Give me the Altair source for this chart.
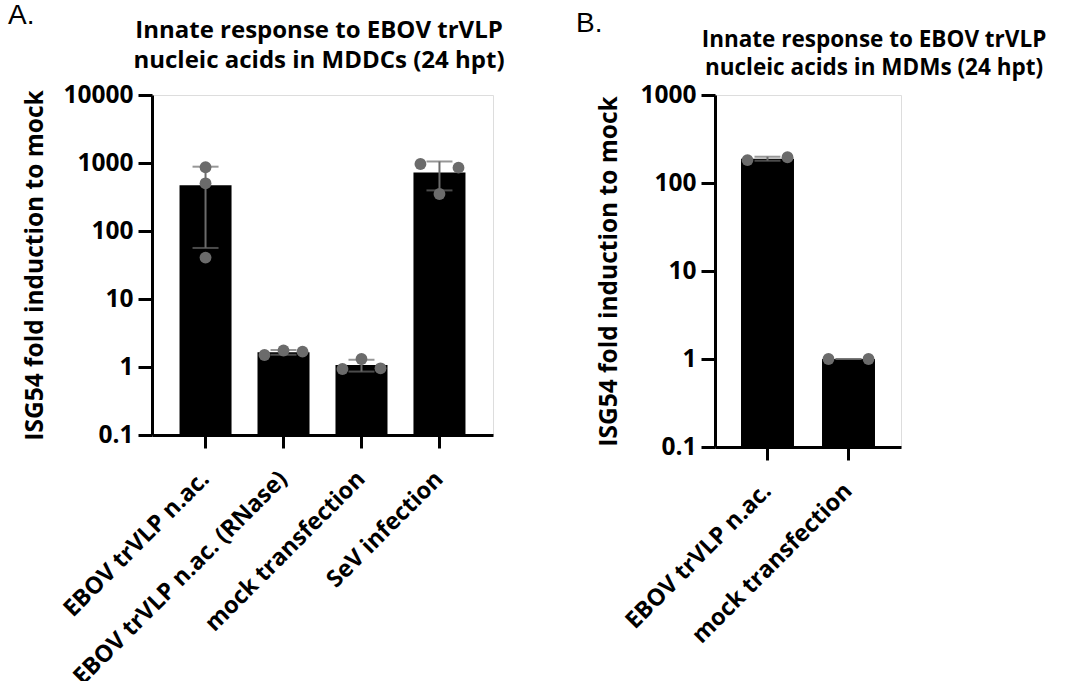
import altair as alt
import pandas as pd

# ---------------- data ----------------
panel_letters = ["A.", "B."]
titles_a = "Innate response to EBOV trVLP\nnucleic acids in MDDCs (24 hpt)"
titles_b = "Innate response to EBOV trVLP\nnucleic acids in MDMs (24 hpt)"
y_title = "ISG54 fold induction to mock"

a_groups = ["EBOV trVLP n.ac.", "EBOV trVLP n.ac. (RNase)", "mock transfection", "SeV infection"]
a_values = [[865, 503, 40.6], [1.5, 1.75, 1.68], [0.935, 1.31, 0.957], [967, 350, 855]]
a_side = [[0, 0, 0], [-1, 0, 1], [-1, 0, 1], [-1, 0, 1]]

b_groups = ["EBOV trVLP n.ac.", "mock transfection"]
b_values = [[182, 196], [1.0, 1.0]]
b_side = [[-1, 1], [-1, 1]]

a_ticks = [0.1, 1, 10, 100, 1000, 10000]
b_ticks = [0.1, 1, 10, 100, 1000]


def make_df(groups, values, sides, spread):
    rows = []
    for i, (g, vals, ss) in enumerate(zip(groups, values, sides)):
        for v, s in zip(vals, ss):
            rows.append({"group": g, "value": v, "pos": i + s * spread})
    return pd.DataFrame(rows)


FONT = "Open Sans"
GRAY = "#6b6b6b"


def panel(df, groups, ticks, width, height, title, tsize, tline, tx, ty, letter, lx, ly,
          pin, pout, ytitle_pad):
    n = len(groups)
    c = pout + (1 - pin) / 2
    yscale = alt.Scale(type="log", domain=[ticks[0], ticks[-1]], nice=False)
    xenc = alt.X(
        "group:N", sort=groups,
        scale=alt.Scale(paddingInner=pin, paddingOuter=pout),
        axis=alt.Axis(title=None, labelAngle=-45, labelAlign="right", labelBaseline="middle",
                      labelPadding=27, labelFont=FONT, labelFontWeight="bold", labelFontSize=23.5,
                      labelColor="black", labelLimit=500, tickSize=13, tickWidth=3,
                      tickColor="black", domainColor="black", domainWidth=3),
    )
    yaxis = alt.Axis(values=ticks, format="~g", grid=False, title=y_title,
                     titleFont=FONT, titleFontWeight="bold", titleFontSize=24.5,
                     titleColor="black", titlePadding=ytitle_pad,
                     labelFont=FONT, labelFontWeight="bold", labelFontSize=24.5,
                     labelColor="black", labelPadding=5, tickSize=14, tickWidth=3,
                     tickColor="black", domainColor="black", domainWidth=3)
    base = alt.Chart(df)
    bars = base.mark_bar(color="black").encode(
        x=xenc, y=alt.Y("mean(value):Q", scale=yscale, axis=yaxis))
    err = base.mark_errorbar(extent="stdev", color=GRAY, thickness=2, size=26, ticks=True).encode(
        x=xenc, y=alt.Y("value:Q", scale=yscale, title=y_title))
    pts = base.mark_circle(size=140, color=GRAY, opacity=1).encode(
        x=alt.X("pos:Q", scale=alt.Scale(domain=[-c, n - 1 + c], nice=False, zero=False), axis=None),
        y=alt.Y("value:Q", scale=yscale))
    lab = alt.Chart(pd.DataFrame({"t": [letter]})).mark_text(
        font="Liberation Sans", fontSize=28, align="left", baseline="alphabetic", color="black"
    ).encode(text="t:N", x=alt.value(lx), y=alt.value(ly))
    ttl = alt.Chart(pd.DataFrame({"t": [title]})).mark_text(
        font=FONT, fontWeight="bold", fontSize=tsize, align="center", baseline="alphabetic",
        color="black", lineBreak="\n", lineHeight=tline
    ).encode(text="t:N", x=alt.value(tx), y=alt.value(ty))
    main = alt.layer(bars, err)
    return alt.layer(main, pts, lab, ttl).resolve_scale(x="independent").properties(
        width=width, height=height)


df_a = make_df(a_groups, a_values, a_side, 0.244)
df_b = make_df(b_groups, b_values, b_side, 0.247)

chart_a = panel(df_a, a_groups, a_ticks, 341, 340, titles_a, 24, 30, 167, -57, panel_letters[0],
                -144, -71, 0.333, 0.353, 15)
chart_b = panel(df_b, b_groups, b_ticks, 186, 352, titles_b, 22.5, 28, 159, -48, panel_letters[1],
                -139, -63, 0.346, 0.321, 18)

chart = alt.hconcat(chart_a, chart_b, spacing=69).properties(
    padding={"left": 7, "top": 1, "right": 5, "bottom": 5}
).configure_view(stroke=None).configure(background="white")

chart.save("out.html", embed_options={"renderer": "svg", "actions": False})
